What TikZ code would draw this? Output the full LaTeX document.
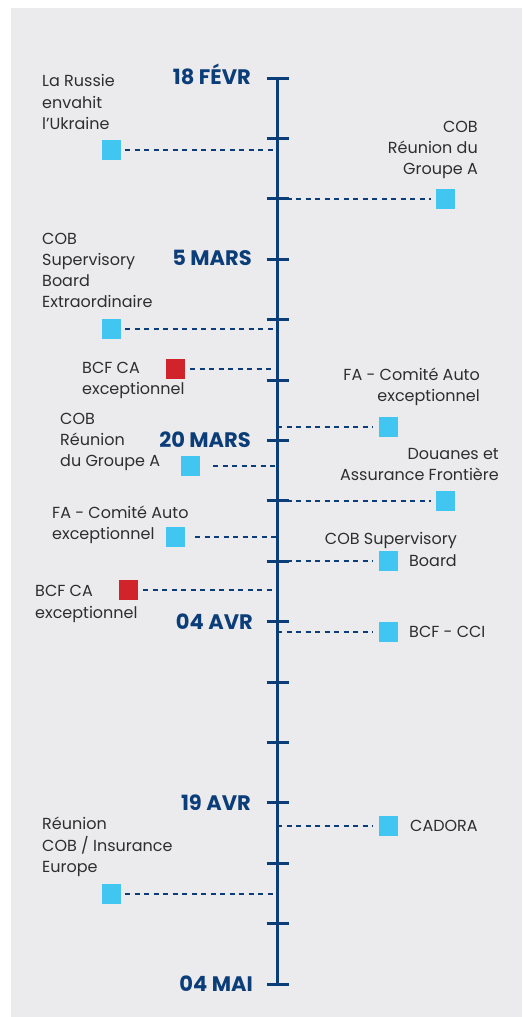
\documentclass[tikz,border=0pt]{standalone}
\usepackage{fontspec}
\setmainfont{Poppins}
\definecolor{panelgray}{HTML}{EBEBED}
\definecolor{navy}{HTML}{0B3D79}
\definecolor{evcyan}{HTML}{41C6F2}
\definecolor{evred}{HTML}{D1232A}
\definecolor{ink}{HTML}{2E2E2E}
\begin{document}
\begin{tikzpicture}[x=1pt,y=-1pt,
  panel/.style={fill=panelgray,draw=none},
  axisline/.style={draw=navy,line width=3pt},
  tickmark/.style={draw=navy,line width=3pt},
  datelabel/.style={font=\bfseries\fontsize{21}{21}\selectfont,text=navy,anchor=east,
    inner sep=0pt,text height=15pt,text depth=0pt},
  event/.style={fill=evcyan,draw=none,minimum width=19pt,minimum height=20pt,inner sep=0pt},
  urgent/.style={event,fill=evred},
  link/.style={draw=navy,line width=1.3pt,dash pattern=on 5pt off 4.5pt},
  lbl/.style={font=\fontsize{16}{21.2}\selectfont,text=ink,inner sep=0pt},
  lbll/.style={lbl,anchor=west,align=left},
  lblr/.style={lbl,anchor=east,align=right}]
\useasboundingbox (0,0) rectangle (522,1017);
\fill[panel] (11,8) rectangle (522,1017);

% event markers
\node[event]  (e1)  at (111.5,150) {};
\node[event]  (e2)  at (445.5,199) {};
\node[event]  (e3)  at (111.5,329) {};
\node[urgent] (e4)  at (175.5,369) {};
\node[event]  (e5)  at (388.5,427) {};
\node[event]  (e6)  at (190.5,466) {};
\node[event]  (e7)  at (445.5,501) {};
\node[event]  (e8)  at (175.5,537) {};
\node[event]  (e9)  at (388.5,561) {};
\node[urgent] (e10) at (128.5,590) {};
\node[event]  (e11) at (388.5,632) {};
\node[event]  (e12) at (388.5,826) {};
\node[event]  (e13) at (111.5,894) {};

% points on the time axis
\coordinate (a1)  at (277,150);
\coordinate (a2)  at (277,199);
\coordinate (a3)  at (277,329);
\coordinate (a4)  at (277,369);
\coordinate (a5)  at (277,427);
\coordinate (a6)  at (277,466);
\coordinate (a7)  at (277,501);
\coordinate (a8)  at (277,537);
\coordinate (a9)  at (277,561);
\coordinate (a10) at (277,590);
\coordinate (a11) at (277,632);
\coordinate (a12) at (277,826);
\coordinate (a13) at (277,894);

% dashed connectors
\draw[link,shorten <=4pt]  (e1.east)  -- (a1);
\draw[link,shorten >=5pt]  (a2)  -- (e2.west);
\draw[link,shorten <=4pt]  (e3.east)  -- (a3);
\draw[link,shorten <=5pt]  (e4.east)  -- (a4);
\draw[link,shorten >=6pt]  (a5)  -- (e5.west);
\draw[link,shorten <=13pt] (e6.east)  -- (a6);
\draw[link,shorten >=5pt]  (a7)  -- (e7.west);
\draw[link,shorten <=10pt] (e8.east)  -- (a8);
\draw[link,shorten >=6pt]  (a9)  -- (e9.west);
\draw[link,shorten <=5pt]  (e10.east) -- (a10);
\draw[link,shorten >=6pt]  (a11) -- (e11.west);
\draw[link,shorten >=6pt]  (a12) -- (e12.west);
\draw[link,shorten <=4pt]  (e13.east) -- (a13);

% time axis with ticks
\coordinate (axtop) at (277,78);
\coordinate (axbot) at (277,984);
\draw[axisline] (axtop) -- (axbot);
\foreach \i in {0,...,15}
  \draw[tickmark] (266.5,{78+60.4*\i}) -- (288.5,{78+60.4*\i});

% dates
\node[datelabel] (d1) at (251,77)    {18 FÉVR};
\node[datelabel] (d2) at (252,258.2) {5 MARS};
\node[datelabel] (d3) at (251,440.4) {20 MARS};
\node[datelabel] (d4) at (253,621.6) {04 AVR};
\node[datelabel] (d5) at (251,802.8) {19 AVR};
\node[datelabel] (d6) at (253,984)   {04 MAI};

% event texts
\node[lbll] (t1)  at (42,102)   {La Russie\\envahit\\l’Ukraine};
\node[lblr] (t2)  at (478,150)  {COB\\Réunion du\\Groupe A};
\node[lbll] (t3)  at (42,270.5) {COB\\Supervisory\\Board\\Extraordinaire};
\node[lbll] (t4)  at (82,380.5) {BCF CA\\exceptionnel};
\node[lblr] (t5)  at (480,387)  {FA - Comité Auto\\exceptionnel};
\node[lbll] (t6)  at (60,442)   {COB\\Réunion\\du Groupe A};
\node[lblr] (t7)  at (499,464.5){Douanes et\\Assurance Frontière};
\node[lbll] (t8)  at (52,524.5) {FA - Comité Auto\\exceptionnel};
\node[lblr] (t9)  at (457,549.5){COB Supervisory\\Board};
\node[lbll] (t10) at (35,604)   {BCF CA\\exceptionnel};
\node[lbll] (t11) at (409,632)  {BCF - CCI};
\node[lbll] (t12) at (410,826)  {CADORA};
\node[lbll] (t13) at (42,847)   {Réunion\\COB / Insurance\\Europe};
\end{tikzpicture}
\end{document}
